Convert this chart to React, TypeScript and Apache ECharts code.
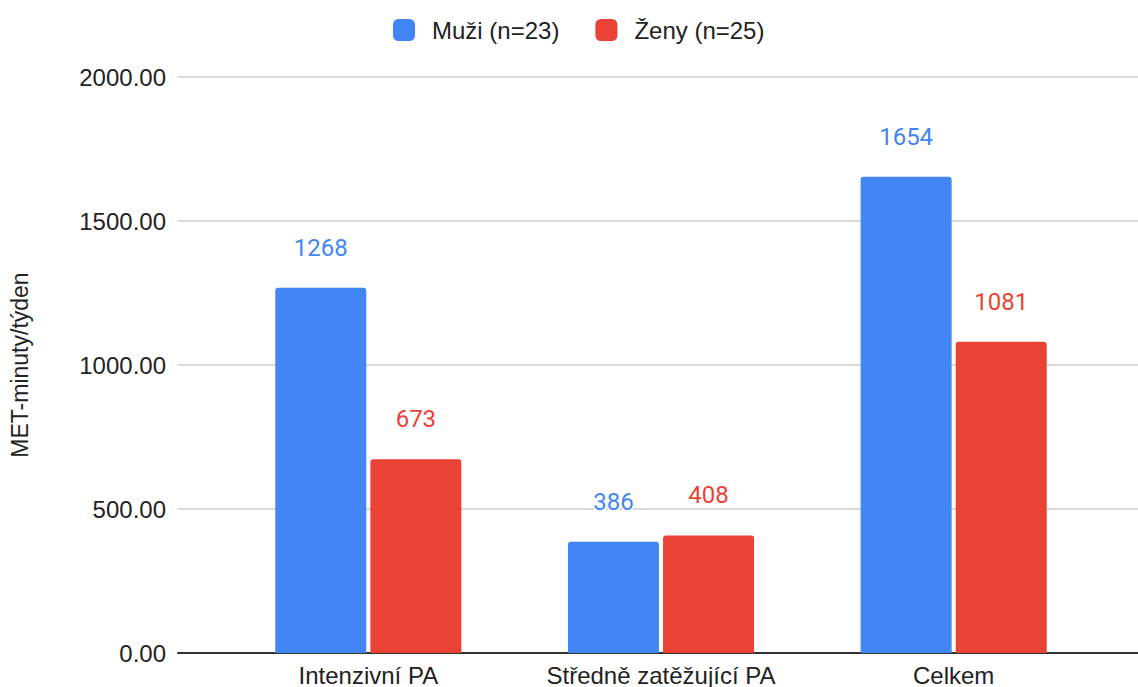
import React, { useEffect, useRef } from "react";
import * as echarts from "echarts";

const categories = ["Intenzivní PA", "Středně zatěžující PA", "Celkem"];
const seriesNames = ["Muži (n=23)", "Ženy (n=25)"];
const menValues = [1268, 386, 1654];
const womenValues = [673, 408, 1081];
const colors = ["#4285F4", "#EA4335"];
const yAxisName = "MET-minuty/týden";

export default function App() {
  const ref = useRef<HTMLDivElement>(null);
  useEffect(() => {
    if (!ref.current) return;
    const chart = echarts.init(ref.current, undefined, { renderer: "svg" });
    const font = "'Liberation Sans', Arial, sans-serif";
    const labelStyle = (c: string) => ({
      show: true,
      position: "top",
      distance: 28,
      color: c,
      fontSize: 24,
      fontFamily: "Roboto, sans-serif",
      textBorderColor: "#fff",
      textBorderWidth: 3,
    });
    chart.setOption({
      animation: false,
      color: colors,
      legend: {
        top: 13,
        left: 388,
        icon: "roundRect",
        itemWidth: 22,
        itemHeight: 22,
        itemGap: 36,
        textStyle: { fontSize: 24, color: "#222", fontFamily: font, padding: [0, 0, 0, 12] },
        data: seriesNames,
      },
      grid: [
        { left: 172, right: 0, top: 77, bottom: 34 },
        { left: 222, right: 38, top: 77, bottom: 34 },
      ],
      xAxis: [
        {
          gridIndex: 0,
          type: "category",
          data: categories,
          axisLine: { show: true, lineStyle: { color: "#333", width: 2 } },
          axisTick: { show: false },
          axisLabel: { show: false },
          splitLine: { show: false },
        },
        {
          gridIndex: 1,
          type: "category",
          data: categories,
          axisLine: { show: false },
          axisTick: { show: false },
          axisLabel: { interval: 0, fontSize: 24, color: "#222", fontFamily: font, margin: 10 },
        },
      ],
      yAxis: [
        {
          gridIndex: 0,
          type: "value",
          min: 0,
          max: 2000,
          interval: 500,
          name: yAxisName,
          nameLocation: "middle",
          nameGap: 147,
          nameTextStyle: { fontSize: 23, color: "#222", fontFamily: font },
          axisLabel: {
            fontSize: 24,
            color: "#222",
            fontFamily: font,
            margin: 12,
            formatter: (v: number) => v.toFixed(2),
          },
          axisLine: { show: false },
          axisTick: { show: false },
          splitLine: { lineStyle: { color: "#cccccc", width: 1.5 } },
        },
        {
          gridIndex: 1,
          type: "value",
          min: 0,
          max: 2000,
          interval: 500,
          show: false,
          splitLine: { show: false },
        },
      ],
      series: [
        {
          name: seriesNames[0],
          type: "bar",
          xAxisIndex: 1,
          yAxisIndex: 1,
          data: menValues,
          barWidth: 91,
          barGap: "4.5%",
          itemStyle: { color: colors[0], borderRadius: [3, 3, 0, 0] },
          label: labelStyle(colors[0]),
        },
        {
          name: seriesNames[1],
          type: "bar",
          xAxisIndex: 1,
          yAxisIndex: 1,
          data: womenValues,
          barWidth: 91,
          itemStyle: { color: colors[1], borderRadius: [3, 3, 0, 0] },
          label: labelStyle(colors[1]),
        },
      ],
    });
    return () => chart.dispose();
  }, []);
  return (
    <div
      ref={ref}
      style={{ position: "absolute", left: 0, top: 0, width: 1138, height: 687, background: "#fff" }}
    />
  );
}
